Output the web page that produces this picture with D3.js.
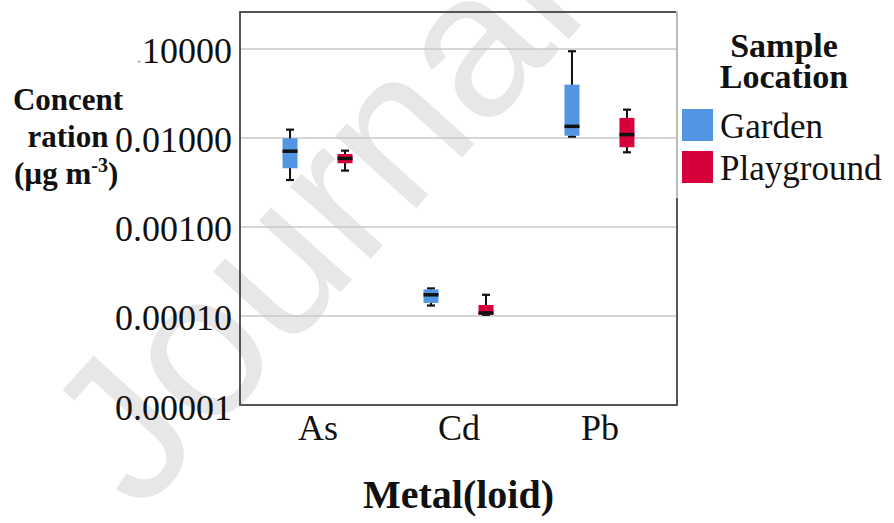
<!DOCTYPE html>
<html>
<head>
<meta charset="utf-8">
<script src="https://cdn.jsdelivr.net/npm/d3@7/dist/d3.min.js"></script>
<style>
  html, body { margin: 0; padding: 0; background: #fff; }
  svg { display: block; }
</style>
</head>
<body>
<script>
// ---- Data ----
const categories = ["As", "Cd", "Pb"];
const groups = ["Garden", "Playground"];
// [whisker low, Q1, median, Q3, whisker high]  (µg m^-3)
const gardenStats = [
  [0.00337, 0.00457, 0.0071, 0.00993, 0.0124],
  [0.000131, 0.00014, 0.000173, 0.000199, 0.000204],
  [0.01035, 0.0106, 0.0135, 0.0397, 0.0942]
];
const playgroundStats = [
  [0.0043, 0.0052, 0.0059, 0.0066, 0.0072],
  [0.000103, 0.000103, 0.000108, 0.000133, 0.000173],
  [0.0069, 0.00787, 0.0109, 0.0168, 0.0208]
];
const tickValues = [0.00001, 0.0001, 0.001, 0.01, 0.1];
const tickLabels = ["0.00001", "0.00010", "0.00100", "0.01000", ".10000"];
const groupColors = ["#5296e3", "#d6003b"];

// ---- Layout ----
const W = 894, H = 523;
const L = 240, R = 677, T = 12, B = 405;
const serif = "'Liberation Serif', 'Times New Roman', serif";

const svg = d3.select("body").append("svg").attr("width", W).attr("height", H);

// watermark
svg.append("text")
  .attr("transform", "translate(140,515) rotate(-48)")
  .attr("font-family", "'Liberation Sans', Arial, sans-serif")
  .attr("font-size", 205)
  .attr("fill", "#e7e7e7")
  .text("Journal");

const x = d3.scalePoint().domain(categories).range([L, R]).padding(0.55);
const xs = d3.scaleBand().domain(groups).range([-55, 55]);
const y = d3.scaleLog().domain([0.00001, 0.26]).range([B, T]);

// grid lines
svg.append("g").selectAll("line").data(tickValues.slice(1)).join("line")
  .attr("x1", L).attr("x2", R)
  .attr("y1", d => y(d)).attr("y2", d => y(d))
  .attr("stroke", "#c9c9c9").attr("stroke-width", 1.6);

// frame
svg.append("rect").attr("x", L).attr("y", T).attr("width", R - L).attr("height", B - T)
  .attr("fill", "none").attr("stroke", "#444").attr("stroke-width", 1.8);

// y axis labels
const yAxis = svg.append("g").attr("transform", `translate(${L},0)`)
  .call(d3.axisLeft(y).tickValues(tickValues).tickSize(0).tickPadding(8)
    .tickFormat((d, i) => tickLabels[i]));
yAxis.select(".domain").remove();
yAxis.selectAll("text")
  .attr("font-family", serif).attr("font-size", 36).attr("fill", "#111")
  .attr("dy", 14)
  .each(function(d, i) {
    const lab = tickLabels[i];
    if (lab.startsWith(".")) {
      const t = d3.select(this).text(null);
      t.append("tspan").attr("fill", "#bbb").attr("font-size", 24).text(".");
      t.append("tspan").text(lab.slice(1));
    }
  });

// x axis labels
const xAxis = svg.append("g").attr("transform", `translate(0,${B})`)
  .call(d3.axisBottom(x).tickSize(0).tickPadding(0));
xAxis.select(".domain").remove();
xAxis.selectAll("text")
  .attr("font-family", serif).attr("font-size", 36).attr("fill", "#111")
  .attr("y", 35).attr("dy", 0);

// boxes
const boxW = 15, capW = 8;
const series = [gardenStats, playgroundStats];
series.forEach((stats, gi) => {
  const g = svg.append("g");
  const items = g.selectAll("g").data(categories.map((c, ci) => ({c, s: stats[ci]}))).join("g")
    .attr("transform", d => `translate(${x(d.c) + xs(groups[gi]) + xs.bandwidth() / 2},0)`);
  items.append("line").attr("x1", 0).attr("x2", 0)
    .attr("y1", d => y(d.s[0])).attr("y2", d => y(d.s[4]))
    .attr("stroke", "#111").attr("stroke-width", 2);
  items.append("line").attr("x1", -capW / 2).attr("x2", capW / 2)
    .attr("y1", d => y(d.s[4])).attr("y2", d => y(d.s[4]))
    .attr("stroke", "#111").attr("stroke-width", 2.2);
  items.append("line").attr("x1", -capW / 2).attr("x2", capW / 2)
    .attr("y1", d => y(d.s[0])).attr("y2", d => y(d.s[0]))
    .attr("stroke", "#111").attr("stroke-width", 2.2);
  items.append("rect").attr("x", -boxW / 2).attr("width", boxW)
    .attr("y", d => y(d.s[3])).attr("height", d => Math.max(1, y(d.s[1]) - y(d.s[3])))
    .attr("fill", groupColors[gi]);
  items.append("line").attr("x1", -boxW / 2).attr("x2", boxW / 2)
    .attr("y1", d => y(d.s[2])).attr("y2", d => y(d.s[2]))
    .attr("stroke", "#111").attr("stroke-width", 3.5);
});

// y axis title
const yt = svg.append("text").attr("font-family", serif).attr("font-weight", "bold")
  .attr("font-size", 31).attr("fill", "#111").attr("text-anchor", "middle");
yt.append("tspan").attr("x", 68).attr("y", 110).text("Concent");
yt.append("tspan").attr("x", 68).attr("y", 147).text("ration");
const yt3 = svg.append("text").attr("font-family", serif).attr("font-weight", "bold")
  .attr("font-size", 31).attr("fill", "#111").attr("x", 14).attr("y", 184);
yt3.append("tspan").text("(µg m");
yt3.append("tspan").attr("font-size", 20).attr("dy", -12).text("-3");
yt3.append("tspan").attr("dy", 12).text(")");

// x axis title
svg.append("text").attr("x", (L + R) / 2).attr("y", 508)
  .attr("text-anchor", "middle").attr("font-family", serif).attr("font-weight", "bold")
  .attr("font-size", 40).attr("fill", "#111").text("Metal(loid)");

// legend
svg.append("rect").attr("x", R - 1).attr("y", 0).attr("width", W - R + 1).attr("height", 198)
  .attr("fill", "#fff").attr("opacity", 0.6);
const lt = svg.append("text").attr("font-family", serif).attr("font-weight", "bold")
  .attr("font-size", 34).attr("fill", "#111").attr("text-anchor", "middle");
lt.append("tspan").attr("x", 784).attr("y", 57).text("Sample");
lt.append("tspan").attr("x", 784).attr("y", 88).text("Location");
const leg = svg.append("g").selectAll("g").data(groups).join("g")
  .attr("transform", (d, i) => `translate(682,${109 + i * 42})`);
leg.append("rect").attr("width", 31).attr("height", 32).attr("fill", (d, i) => groupColors[i]);
leg.append("text").attr("x", 38).attr("y", 29).attr("font-family", serif)
  .attr("font-size", 35).attr("fill", "#111").text(d => d);
</script>
</body>
</html>
